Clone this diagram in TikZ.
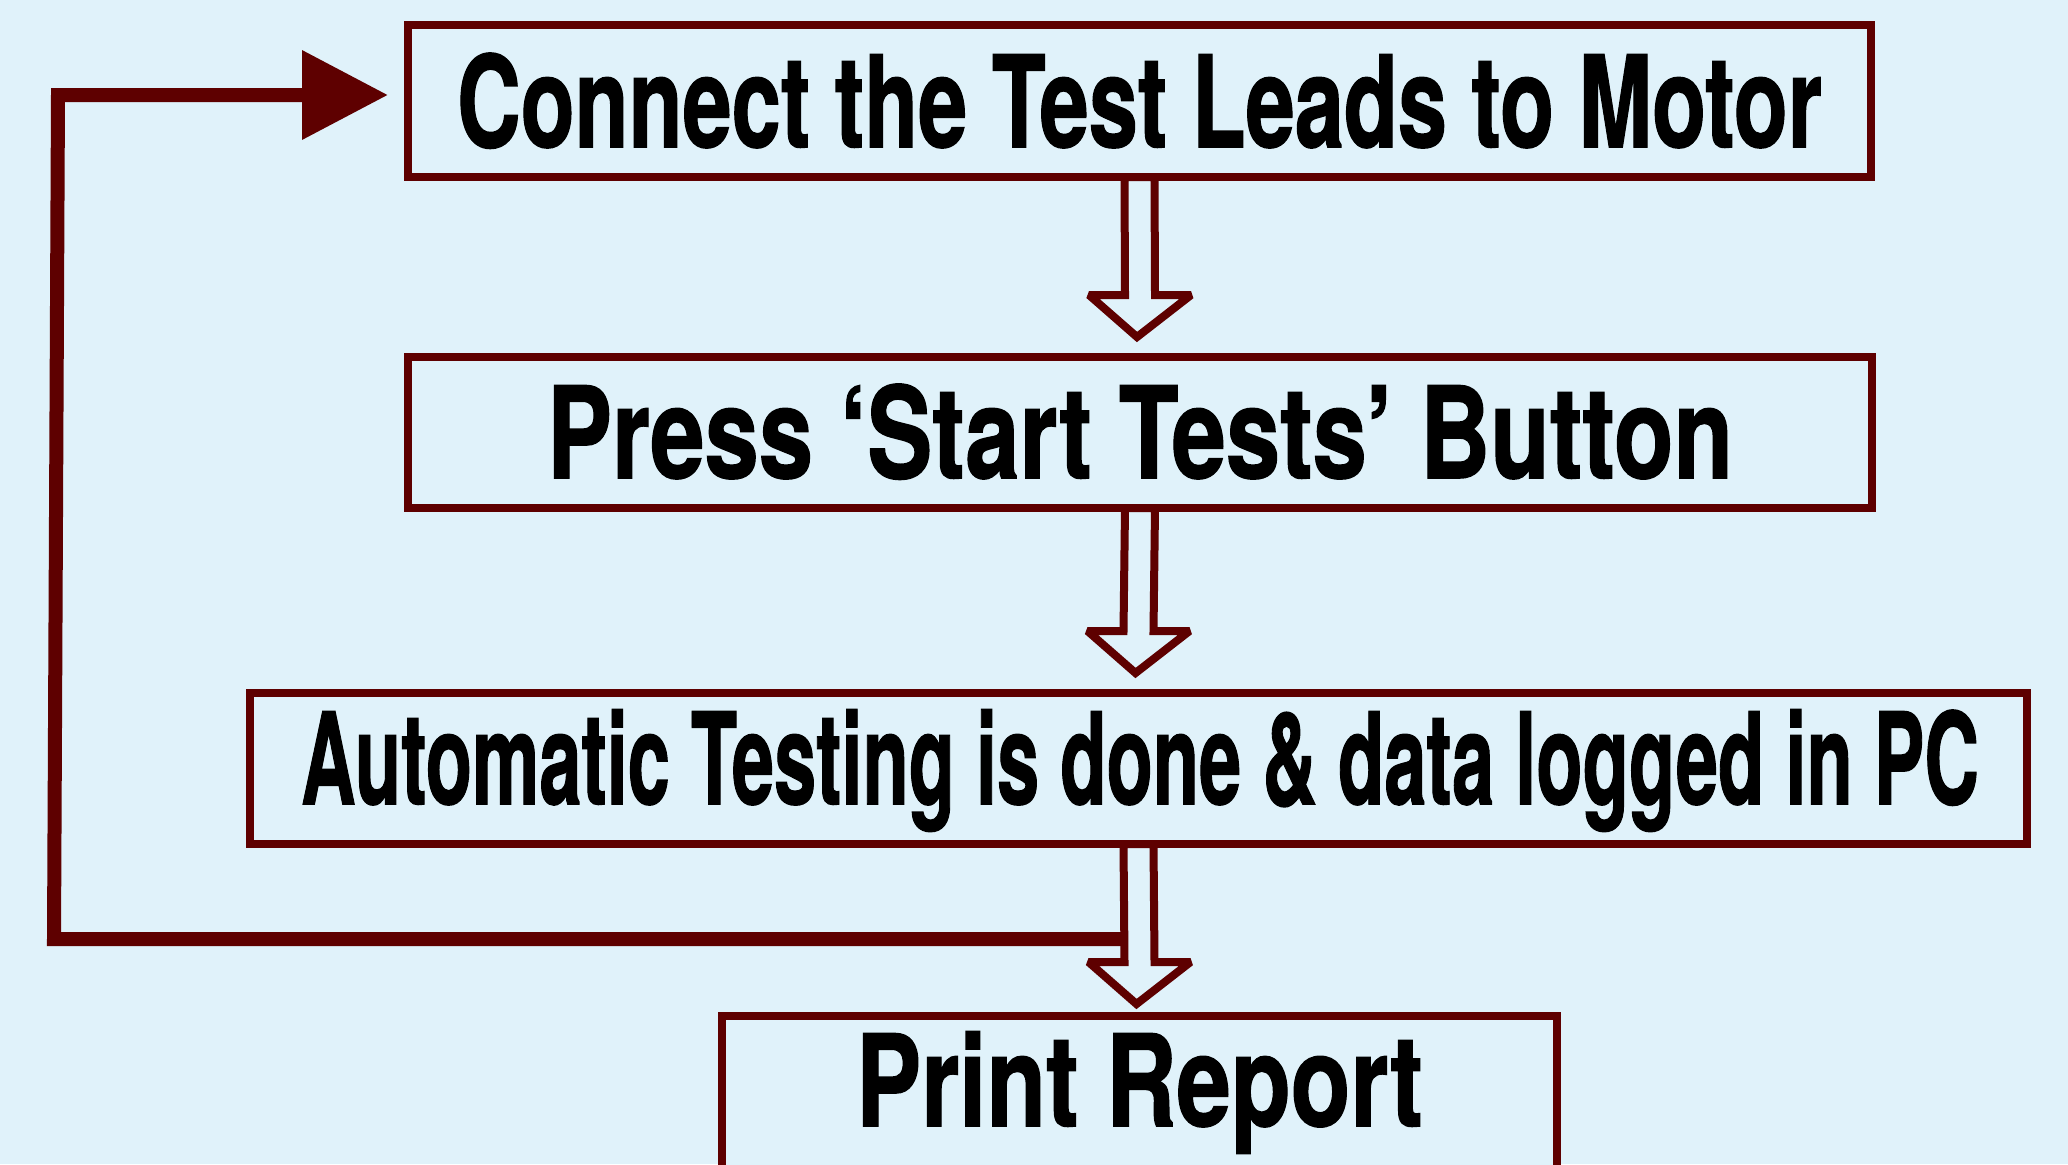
\documentclass[tikz,border=0pt]{standalone}
\usepackage{fontspec}
\setmainfont{TeX Gyre Heros}[BoldFeatures={FakeBold=1.2}]
\usepackage{graphicx}
\usetikzlibrary{arrows.meta,calc}
\definecolor{bg}{HTML}{E0F2FA}
\definecolor{dred}{HTML}{5E0000}
\newcommand\fitw[2]{\resizebox{#1}{\height}{#2}}
\newcommand\blockarr[3]{%
  \draw[blk] ([xshift=-15pt]#1.south) -- ($(#2.north)+(-15,-#3-42)$) -- ($(#2.north)+(-51,-#3-42)$)
    -- ($(#2.north)+(-3,-#3)$) -- ($(#2.north)+(51,-#3-42)$) -- ($(#2.north)+(15,-#3-42)$)
    -- ([xshift=15pt]#1.south) -- cycle;}
\begin{document}
\begin{tikzpicture}[x=1pt,y=-1pt,
  box/.style={draw=dred,line width=8.5pt,fill=bg,inner sep=0pt,outer sep=0pt},
  lbl/.style={anchor=base,inner sep=0pt,outer sep=0pt,font=\fontsize{127pt}{127pt}\selectfont\bfseries},
  blk/.style={draw=dred,fill=bg,line width=8pt,line join=miter,miter limit=2},
  fb/.style={draw=dred,line width=14pt,line join=miter,-{Triangle[length=86pt,width=86pt]}}]
\fill[bg] (0,0) rectangle (2068,1164);
\clip (0,0) rectangle (2068,1164);
\node[box,minimum width=1463pt,minimum height=152pt] (b1) at (1139.5,101) {};
\node[box,minimum width=1464pt,minimum height=151pt] (b2) at (1140,432.5) {};
\node[box,minimum width=1777pt,minimum height=151pt] (b3) at (1138.5,768.5) {};
\node[box,minimum width=835pt,minimum height=184pt] (b4) at (1139.5,1108) {};
\node[lbl] (t1) at (1139.5,147) {\fitw{1365pt}{Connect the Test Leads to Motor}};
\node[lbl] (t2) at (1140,478) {\fitw{1186pt}{Press ‘Start Tests’ Button}};
\node[lbl] (t3) at (1140,804) {\fitw{1678pt}{Automatic Testing is done \& data logged in PC}};
\node[lbl] (t4) at (1139.5,1126) {\fitw{567pt}{Print Report}};
\coordinate (fb0) at (1135,939);
\coordinate (fb1) at (54,939);
\coordinate (fb2) at (58,95);
\draw[fb,shorten >=20pt] (fb0) -- (fb1) -- (fb2) -- (fb2 -| b1.west);
\blockarr{b1}{b2}{20}
\blockarr{b2}{b3}{20}
\blockarr{b3}{b4}{12}
\end{tikzpicture}
\end{document}
